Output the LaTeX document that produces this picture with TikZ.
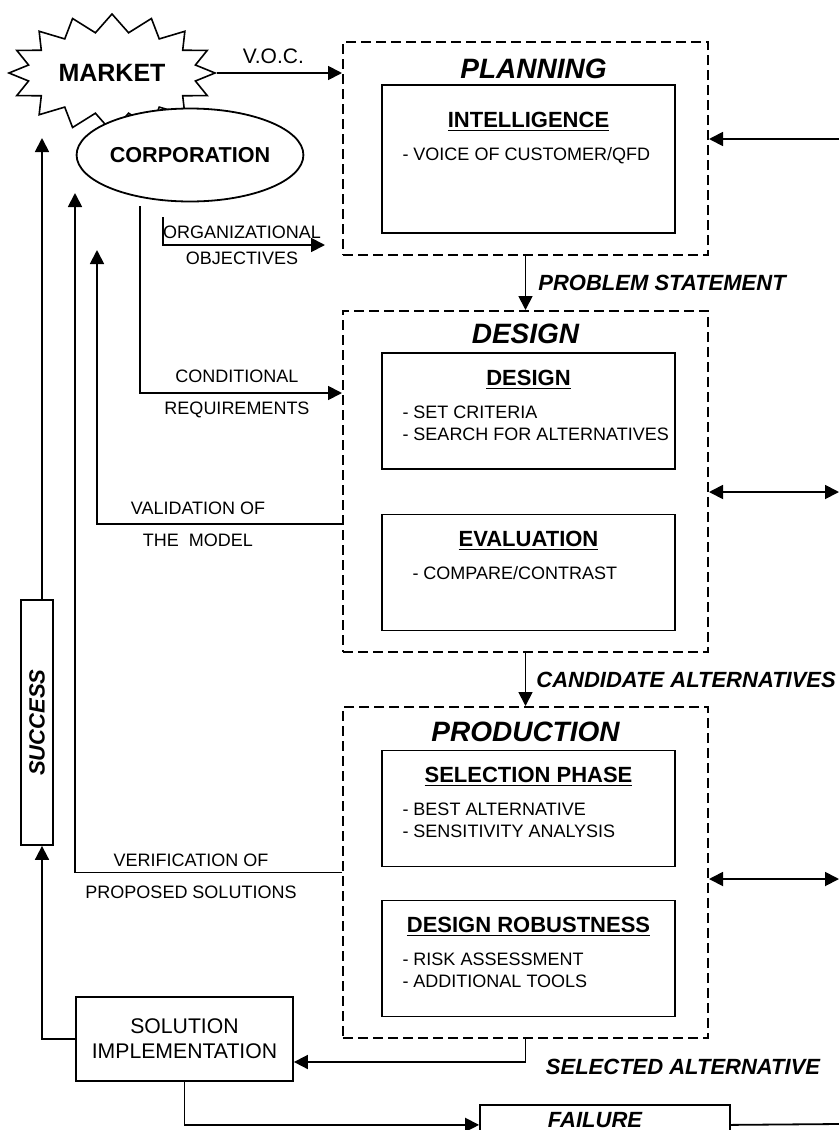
\documentclass[tikz,border=0pt]{standalone}
\usepackage{fontspec}
\setmainfont{Liberation Sans}
\usepackage{graphicx}
\usepackage{tikz}
\usetikzlibrary{arrows.meta,positioning,calc,shapes.geometric,shapes.symbols}

\begin{document}
\begin{tikzpicture}[
    x=0.5pt, y=-0.5pt,
    phase/.style={
        rectangle, draw, dash pattern=on 5pt off 2.5pt, line width=1pt,
        minimum width=182.5pt, minimum height=#1, inner sep=0pt
    },
    box/.style={rectangle, draw, line width=0.9pt, fill=white},
    inbox/.style={box, minimum width=146.5pt, minimum height=#1, inner sep=0pt},
    ttl/.style={font=\fontsize{14}{16}\selectfont\bfseries\itshape, inner sep=0pt},
    head/.style={font=\fontsize{11}{13}\selectfont\bfseries, inner sep=0pt},
    item/.style={font=\fontsize{9}{11}\selectfont, align=left, inner sep=0pt},
    lbl/.style={font=\fontsize{9}{16}\selectfont, align=center, inner sep=0pt},
    flow/.style={font=\fontsize{11}{13}\selectfont\bfseries\itshape, inner sep=0pt},
    arr/.style={-{Triangle[length=7pt,width=7pt]}, line width=0.9pt},
    dbl/.style={{Triangle[length=7pt,width=7pt]}-{Triangle[length=7pt,width=7pt]}, line width=0.9pt},
    ln/.style={line width=0.9pt},
]
\clip (0,0) rectangle (839,1130);

% Environment
\node[starburst, starburst points=16, starburst point height=9pt, random starburst=0,
      draw, line width=0.8pt, fill=white, minimum width=102pt, minimum height=59pt,
      font=\fontsize{12.5}{14}\selectfont\bfseries] (market) at (112,73) {MARKET};
\node[ellipse, draw, line width=0.9pt, fill=white, minimum width=93pt, minimum height=46.5pt,
      inner sep=0pt, font=\fontsize{10.8}{13}\selectfont\bfseries] (corp) at (190,155) {CORPORATION};

% Phase: planning
\node[phase=106.5pt] (plan) at (525.5,148.5) {};
\node[ttl, below=9pt of plan.north, xshift=4pt] (plantl) {PLANNING};
\node[inbox=74pt] (intel) at (528.5,159) {};
\node[head, below=14pt of intel.north] (intelhd) {\underline{INTELLIGENCE}};
\node[item, below right=31.5pt and 10.5pt of intel.north west] (intelit) {- VOICE OF CUSTOMER/QFD};

% Phase: design
\node[phase=170.5pt] (dsgn) at (525.5,481.5) {};
\node[ttl, below=7pt of dsgn.north] (dsgntl) {DESIGN};
\node[inbox=58pt] (dsgnbox) at (528.5,411) {};
\node[head, below=9pt of dsgnbox.north] (dsgnhd) {\underline{DESIGN}};
\node[item, below right=26.5pt and 10.5pt of dsgnbox.north west] (dsgnit) {- SET CRITERIA\\- SEARCH FOR ALTERNATIVES};
\node[inbox=58pt] (evalbox) at (528.5,572.5) {};
\node[head, below=8.5pt of evalbox.north] (evalhd) {\underline{EVALUATION}};
\node[item, below right=26pt and 15.5pt of evalbox.north west] (evalit) {- COMPARE/CONTRAST};

% Phase: production
\node[phase=165.5pt] (prod) at (525.5,872.5) {};
\node[ttl, below=8pt of prod.north] (prodtl) {PRODUCTION};
\node[inbox=58pt] (selbox) at (528.5,808.5) {};
\node[head, below=8.5pt of selbox.north] (selhd) {\underline{SELECTION PHASE}};
\node[item, below right=26.5pt and 10.5pt of selbox.north west] (selit) {- BEST ALTERNATIVE\\- SENSITIVITY ANALYSIS};
\node[inbox=58pt] (robbox) at (528.5,958.5) {};
\node[head, below=8.5pt of robbox.north] (robhd) {\underline{DESIGN ROBUSTNESS}};
\node[item, below right=26.5pt and 10.5pt of robbox.north west] (robit) {- RISK ASSESSMENT\\- ADDITIONAL TOOLS};

% Outcome
\node[box, minimum width=108.5pt, minimum height=42pt, align=center,
      font=\fontsize{10.6}{12.5}\selectfont] (soln) at (184.5,1039) {SOLUTION\\IMPLEMENTATION};
\node[box, minimum width=16pt, minimum height=122.5pt, inner sep=0pt,
      font=\fontsize{11}{13}\selectfont\bfseries\itshape] (succ) at (37,722.5) {\rotatebox{90}{SUCCESS}};
\node[box, minimum width=125pt, minimum height=20pt, anchor=north,
      label={[flow, anchor=north, yshift=-4pt, xshift=-5pt]north:FAILURE}] (fail) at (605,1104) {};

% Free ends
\coordinate (rplan) at (839,139);
\coordinate (rdsgn) at (839,492);
\coordinate (rprod) at (839,879);
\coordinate (rfail) at (839,1124);
\coordinate (selrow) at (0,1062);
\coordinate (orgtop) at (163,217);
\coordinate (orgend) at (325,245);
\coordinate (condtop) at (140,206);
\coordinate (condrow) at (0,393);
\coordinate (valrow) at (0,524);
\coordinate (valtip) at (97,250);
\coordinate (vertip) at (75,193);
\coordinate (mkttip) at (42,138);

% Main flow
\draw[arr] (market.east) -- node[pos=0.45, above=4pt, font=\fontsize{10.5}{12}\selectfont, inner sep=0pt] (voc) {V.O.C.} (market.east -| plan.west);
\draw[arr] (rplan) -- (rplan -| plan.east);
\draw[arr] (plan.south) -- node[flow, right=6pt] (probst) {PROBLEM STATEMENT} (dsgn.north);
\draw[arr] (dsgn.south) -- node[flow, right=5pt] (candalt) {CANDIDATE ALTERNATIVES} (prod.north);
\draw[dbl] (rdsgn -| dsgn.east) -- (rdsgn);
\draw[dbl] (rprod -| prod.east) -- (rprod);
\draw[arr] (prod.south) |- (soln.east |- selrow);
\node[flow] (selalt) at (683,1067) {SELECTED ALTERNATIVE};

% Outcomes
\draw[arr] (soln.west) -| ([xshift=2.5pt]succ.south);
\draw[arr] ([xshift=2.5pt]succ.north) -- (mkttip);
\draw[arr] (soln.south) |- (fail.west);
\draw[ln] (fail.east) -- (rfail);

% Feedback to the corporation
\draw[arr] (orgtop) |- (orgend);
\node[lbl, font=\fontsize{9}{13}\selectfont] (orglbl) at (242,245) {ORGANIZATIONAL\\OBJECTIVES};
\draw[arr] (condtop) |- (dsgn.west |- condrow);
\node[lbl] (condlbl) at (237,394) {CONDITIONAL\\REQUIREMENTS};
\draw[arr] (dsgn.west |- valrow) -| (valtip);
\node[lbl] (vallbl) at (198,524) {VALIDATION OF\\THE\ \ MODEL};
\draw[arr] (prod.west) -| (vertip);
\node[lbl] (verlbl) at (191,876) {VERIFICATION OF\\PROPOSED SOLUTIONS};
\end{tikzpicture}
\end{document}
